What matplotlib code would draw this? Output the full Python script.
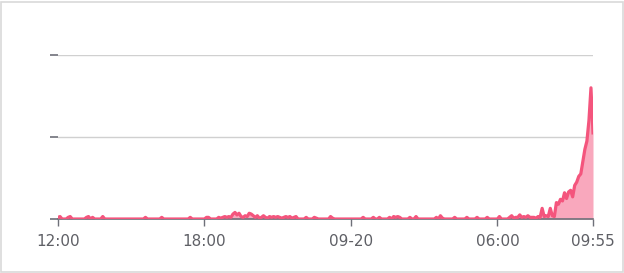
import numpy as np
import pandas as pd
import matplotlib
matplotlib.use("Agg")
import matplotlib.pyplot as plt
from matplotlib.patches import Rectangle

# DATA #######################################################################
# one row per hour, 5 minute samples, 2023-09-19 12:00 -> 2023-09-20 09:55
start = "2023-09-19 12:00"
hourly_rows = [
    [0.02, 0.03, 0, 0, 0, 0.02, 0.03, 0, 0, 0, 0, 0],                    # 12:00
    [0, 0, 0.02, 0.03, 0, 0.02, 0, 0, 0, 0, 0.03, 0],                    # 13:00
    [0, 0, 0, 0, 0, 0, 0, 0, 0, 0, 0, 0],                                # 14:00
    [0, 0, 0, 0, 0, 0, 0, 0.02, 0, 0, 0, 0],                             # 15:00
    [0, 0, 0, 0.02, 0, 0, 0, 0, 0, 0, 0, 0],                             # 16:00
    [0, 0, 0, 0, 0, 0.02, 0, 0, 0, 0, 0, 0],                             # 17:00
    [0, 0.02, 0.02, 0, 0, 0, 0, 0.02, 0.01, 0.02, 0.03, 0.02],           # 18:00
    [0.03, 0.02, 0.06, 0.08, 0.05, 0.07, 0.03, 0.02, 0.04, 0.03, 0.07, 0.06],  # 19:00
    [0.04, 0.02, 0.04, 0.01, 0.02, 0.04, 0.02, 0.01, 0.03, 0.02, 0.03, 0.02],  # 20:00
    [0.03, 0.02, 0.01, 0.02, 0.03, 0.02, 0.03, 0.01, 0.02, 0.03, 0, 0],  # 21:00
    [0, 0, 0.02, 0, 0, 0, 0.02, 0.01, 0, 0, 0, 0],                       # 22:00
    [0, 0, 0.03, 0.01, 0, 0, 0, 0, 0, 0, 0, 0],                          # 23:00
    [0, 0, 0, 0, 0, 0, 0.02, 0, 0, 0, 0, 0.02],                          # 00:00
    [0, 0, 0.02, 0, 0, 0, 0, 0.02, 0, 0.03, 0.02, 0.03],                 # 01:00
    [0.02, 0, 0, 0, 0, 0.02, 0, 0, 0.03, 0, 0, 0],                       # 02:00
    [0, 0, 0, 0, 0, 0, 0.02, 0, 0.04, 0.01, 0, 0],                       # 03:00
    [0, 0, 0, 0.02, 0, 0, 0, 0, 0, 0.02, 0, 0],                          # 04:00
    [0, 0, 0.02, 0, 0, 0, 0, 0.02, 0, 0, 0, 0],                          # 05:00
    [0, 0.03, 0, 0, 0, 0, 0.02, 0.04, 0.01, 0.02, 0.02, 0.05],           # 06:00
    [0.02, 0.03, 0.02, 0.04, 0.02, 0.02, 0.02, 0.01, 0.03, 0.02, 0.13, 0.03],  # 07:00
    [0.04, 0.03, 0.13, 0.04, 0.03, 0.20, 0.18, 0.24, 0.22, 0.32, 0.25, 0.33],  # 08:00
    [0.35, 0.27, 0.41, 0.45, 0.52, 0.55, 0.70, 0.85, 0.95, 1.20, 1.60, 1.05],  # 09:00
]
tick_times = ["2023-09-19 12:00", "2023-09-19 18:00", "2023-09-20 00:00",
              "2023-09-20 06:00", "2023-09-20 09:55"]
tick_labels = ["12:00", "18:00", "09-20", "06:00", "09:55"]
y_ticks = [0, 1, 2]

# PLOT #######################################################################
values = np.concatenate([np.array(r, dtype=float) for r in hourly_rows])
times = pd.date_range(start, periods=len(values), freq="5min")

line_color = "#f4557d"
fill_color = "#f9a8bd"

fig = plt.figure(figsize=(6.24, 2.73), dpi=100)
ax = fig.add_axes([58 / 624, 54 / 273, 535 / 624, 164 / 273])

ax.fill_between(times, 0, values, color=fill_color, linewidth=0, zorder=2)
ax.plot(times, values, color=line_color, linewidth=2.3, zorder=5,
        solid_joinstyle="round")

ax.set_xlim(times[0], times[-1])
ax.set_ylim(0, 2)

ax.set_yticks(y_ticks)
ax.set_yticklabels([])
ax.tick_params(axis="y", length=6, width=1.2, color="#6e7079", pad=2)
ax.yaxis.grid(True, color="#d0d0d0", linewidth=1)
ax.set_axisbelow(True)

ax.set_xticks(pd.to_datetime(tick_times))
ax.set_xticklabels(tick_labels)
ax.tick_params(axis="x", length=5, width=1, color="#6e7079",
               labelcolor="#5f6066", labelsize=11, pad=6)

for side in ["top", "right", "left"]:
    ax.spines[side].set_visible(False)
ax.spines["bottom"].set_color("#6e7079")
ax.spines["bottom"].set_linewidth(1.2)
ax.spines["bottom"].set_zorder(4)

# outer light border
fig.patches.append(Rectangle((0.5 / 624, 1.5 / 273), 622 / 624, 270 / 273,
                             transform=fig.transFigure, fill=False,
                             edgecolor="#d9d9d9", linewidth=1.2))

fig.savefig("out.png", dpi=100)
